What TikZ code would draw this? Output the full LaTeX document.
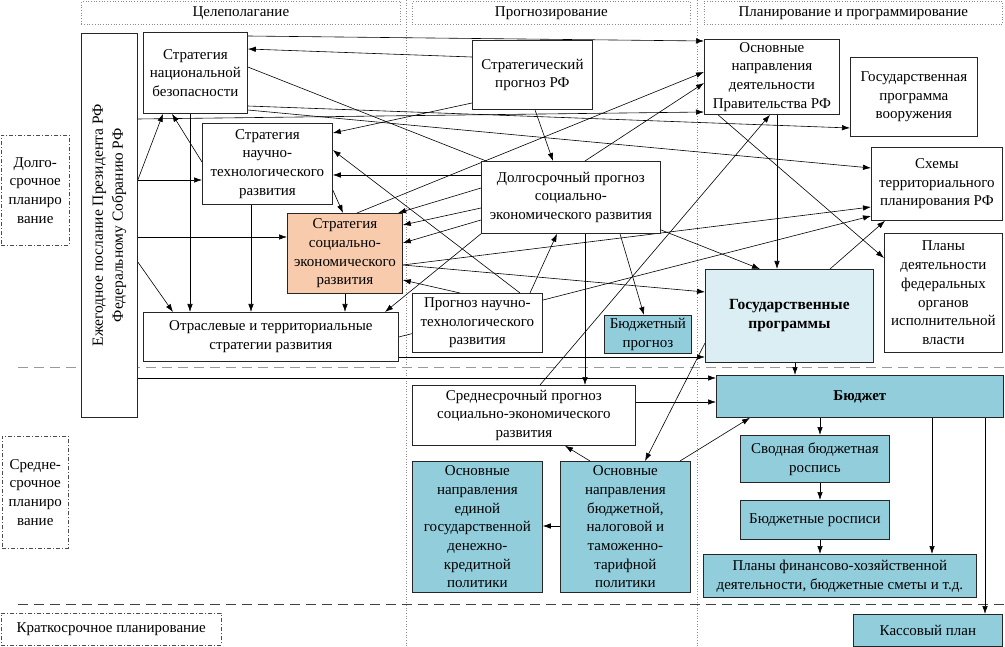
\documentclass[tikz,border=0pt]{standalone}
\usepackage{fontspec}
\setmainfont{Liberation Serif}
\usetikzlibrary{arrows.meta,backgrounds}
\definecolor{peach}{HTML}{F8CBAD}
\definecolor{lblue}{HTML}{DAEEF3}
\definecolor{tealbox}{HTML}{92CDDC}
\begin{document}
\begin{tikzpicture}[x=1pt,y=-1pt,
  font=\fontsize{15}{18.7}\selectfont,
  bx/.style={draw=black!85, line width=0.8pt, fill=white, align=center, inner sep=1pt, anchor=north west},
  sz/.style 2 args={minimum width=#1pt, minimum height=#2pt},
  ar/.style={line width=0.6pt, -{Latex[length=8pt,width=5.5pt]}},
  hdr/.style={draw=black!45, dotted, line width=0.7pt, anchor=north west, inner sep=0pt},
  lab/.style={draw=black!70, line width=0.6pt, dash pattern=on 4pt off 2pt on 1pt off 2pt, anchor=north west, align=center, inner sep=0pt},
  guide/.style={draw=black!45, dotted, line width=0.7pt},
]
\useasboundingbox (0,0) rectangle (1005,647);

% headers
\node[hdr, sz={319}{23}] (h1) at (81,1) {Целеполагание};
\node[hdr, sz={278}{23}] (h2) at (412,1) {Прогнозирование};
\node[hdr, sz={298}{23}] (h3) at (704,1) {Планирование и программирование};

% left labels
\node[lab, sz={68}{110}] (l1) at (1,135) {Долго-\\срочное\\планиро\\вание};
\node[lab, sz={66}{112}] (l2) at (2,436) {Средне-\\срочное\\планиро\\вание};
\node[lab, sz={220}{32}] (l3) at (1,613) {Краткосрочное планирование};

% boxes
\node[bx, sz={56}{384}] (e) at (81,33) {};
\node[rotate=90, align=center, font=\fontsize{15.5}{20}\selectfont] (etext) at (e.center) {Ежегодное послание Президента РФ\\Федеральному Собранию РФ};
\node[bx, sz={104}{81}] (nat) at (143,32) {Стратегия\\национальной\\безопасности};
\node[bx, sz={130}{81}] (sntr) at (202,123) {Стратегия\\научно-\\технологического\\развития};
\node[bx, sz={115}{80}, fill=peach] (orange) at (287,213) {Стратегия\\социально-\\экономического\\развития};
\node[bx, sz={255}{49}] (otr) at (143,312) {Отраслевые и территориальные\\стратегии развития};
\node[bx, sz={120}{69}] (stratprog) at (472,40) {Стратегический\\прогноз РФ};
\node[bx, sz={179}{72}] (dp) at (481,161) {Долгосрочный прогноз\\социально-\\экономического развития};
\node[bx, sz={130}{59}] (pntr) at (412,293) {Прогноз научно-\\технологического\\развития};
\node[bx, sz={87}{38}, fill=tealbox] (bprog) at (604,315) {Бюджетный\\прогноз};
\node[bx, sz={223}{60}] (srednesr) at (412,385) {Среднесрочный прогноз\\социально-экономического\\развития};
\node[bx, sz={130}{131}, fill=tealbox] (onegdkp) at (412,461) {Основные\\направления\\единой\\государственной\\денежно-\\кредитной\\политики};
\node[bx, sz={130}{131}, fill=tealbox] (onbntp) at (560,461) {Основные\\направления\\бюджетной,\\налоговой и\\таможенно-\\тарифной\\политики};
\node[bx, sz={135}{75}] (ondp) at (704,39) {Основные\\направления\\деятельности\\Правительства РФ};
\node[bx, sz={127}{79}] (gpv) at (850,57) {Государственная\\программа\\вооружения};
\node[bx, sz={131}{73}] (shemy) at (871,147) {Схемы\\территориального\\планирования РФ};
\node[bx, sz={118}{119}] (plany) at (884,233) {Планы\\деятельности\\федеральных\\органов\\исполнительной\\власти};
\node[bx, sz={168}{93}, fill=lblue, font=\fontsize{15.5}{19}\selectfont\bfseries] (gp) at (705,269) {Государственные\\программы};
\node[bx, sz={287}{42}, fill=tealbox, font=\fontsize{15}{18.7}\selectfont\bfseries] (budget) at (716,375) {Бюджет};
\node[bx, sz={149}{47}, fill=tealbox] (svod) at (740,435) {Сводная бюджетная\\роспись};
\node[bx, sz={149}{39}, fill=tealbox] (bros) at (740,500) {Бюджетные росписи};
\node[bx, sz={273}{43}, fill=tealbox] (plfin) at (703,554) {Планы финансово-хозяйственной\\деятельности, бюджетные сметы и т.д.};
\node[bx, sz={149}{32}, fill=tealbox] (kass) at (853,614) {Кассовый план};

\begin{pgfonlayer}{background}
\draw[guide] (406,0) -- (406,647);
\draw[guide] (697,0) -- (697,647);
\draw[black!40, line width=0.9pt, dash pattern=on 10pt off 6pt] (18,367) -- (1005,367);
\draw[black!75, line width=0.9pt, dash pattern=on 10pt off 6pt] (18,604) -- (1005,604);

\draw[ar] (nat.east |- 0,36) -- (ondp.west |- 0,41);
\draw[ar] (stratprog.west |- 0,57) -- (nat.east |- 0,49);
\draw[ar] (nat.east |- 0,67) -- (gp.north -| 760,0);
\draw[ar] (e.east |- 0,119) -- (ondp.west |- 0,112);
\draw[ar] (nat.east |- 0,106) -- (gpv.west |- 0,128);
\draw[ar] (nat.east |- 0,110) -- (shemy.west |- 0,168);
\draw[ar] (e.east |- 0,180) -- (nat.south -| 163,0);
\draw[ar] (e.east |- 0,180) -- (sntr.west |- 0,180);
\draw[ar] (sntr.west |- 0,162) -- (nat.south -| 172,0);
\draw[ar] (nat.south -| 190,0) -- (otr.north -| 190,0);
\draw[ar] (sntr.south -| 251,0) -- (otr.north -| 251,0);
\draw[ar] (e.east |- 0,237) -- (orange.west |- 0,237);
\draw[ar] (e.east |- 0,262) -- (otr.north -| 173,0);
\draw[ar] (orange.south -| 345,0) -- (otr.north -| 345,0);
\draw[ar] (dp.south west) -- (otr.north -| 385,0);
\draw[ar] (sntr.east |- 0,190) -- (orange.north -| 343,0);
\draw[ar] (stratprog.west |- 0,103) -- (sntr.east |- 0,133);
\draw[ar] (dp.west |- 0,175) -- (sntr.east |- 0,175);
\draw[ar] (pntr.north -| 520,0) -- (sntr.east |- 0,150);
\draw[ar] (dp.west |- 0,188) -- (orange.north -| 398,0);
\draw[ar] (dp.west |- 0,208) -- (orange.east |- 0,225);
\draw[ar] (dp.west |- 0,220) -- (orange.east |- 0,243);
\draw[ar] (pntr.north -| 460,0) -- (orange.east |- 0,280);
\draw[ar] (orange.north -| 357,0) -- (ondp.west |- 0,72);
\draw[ar] (dp.north -| 585,0) -- (ondp.west |- 0,83);
\draw[ar] (stratprog.south -| 535,0) -- (dp.north -| 553,0);
\draw[ar] (pntr.north -| 530,0) -- (dp.south -| 557,0);
\draw[ar] (orange.east |- 0,265) -- (shemy.west |- 0,207);
\draw[ar] (otr.east |- 0,337) -- (shemy.west |- 0,216);
\draw[ar] (gp.north -| 830,0) -- (shemy.south -| 885,0);
\draw[ar] (orange.east |- 0,265) -- (gp.west |- 0,292);
\draw[ar] (otr.east |- 0,357) -- (gp.west |- 0,357);
\draw[ar] (ondp.south -| 777,0) -- (gp.north -| 777,0);
\draw[ar] (ondp.south -| 718,0) -- (plany.west |- 0,258);
\draw[ar] (srednesr.north -| 540,0) -- (ondp.south -| 770,0);
\draw[ar] (e.east |- 0,378) -- (budget.west |- 0,378);
\draw[ar] (srednesr.east |- 0,402) -- (budget.west |- 0,402);
\draw[ar] (dp.south -| 585,0) -- (srednesr.north -| 585,0);
\draw[ar] (dp.south -| 620,0) -- (bprog.north -| 644,0);
\draw[ar] (gp.south -| 795,0) -- (budget.north -| 795,0);
\draw[ar] (gp.west |- 0,343) -- (onbntp.north -| 645,0);
\draw[ar] (onbntp.north -| 590,0) -- (srednesr.south -| 565,0);
\draw[ar] (onbntp.west |- 0,526) -- (onegdkp.east |- 0,526);
\draw[ar] (onbntp.north -| 680,0) -- (budget.south -| 750,0);
\draw[ar] (budget.south -| 820,0) -- (svod.north -| 820,0);
\draw[ar] (svod.south -| 820,0) -- (bros.north -| 820,0);
\draw[ar] (bros.south -| 820,0) -- (plfin.north -| 820,0);
\draw[ar] (budget.south -| 932,0) -- (plfin.north -| 932,0);
\draw[ar] (budget.south -| 985,0) -- (kass.north -| 985,0);
\end{pgfonlayer}
\end{tikzpicture}
\end{document}
